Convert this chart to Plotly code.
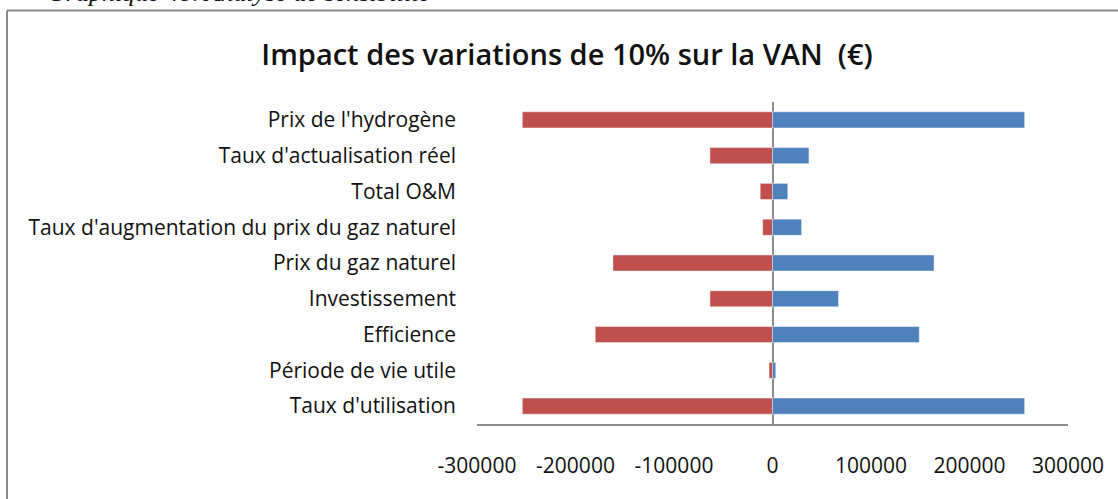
import plotly.graph_objects as go

# Sensitivity analysis: effect of a ±10% change of each parameter on the NPV (VAN)
parametres = [
    "Prix de l'hydrogène",
    "Taux d'actualisation réel",
    "Total O&M",
    "Taux d'augmentation du prix du gaz naturel",
    "Prix du gaz naturel",
    "Investissement",
    "Efficience",
    "Période de vie utile",
    "Taux d'utilisation",
]
impact_negatif = [-254000, -63500, -12500, -10000, -162000, -63500, -180000, -3500, -254000]
impact_positif = [256000, 37000, 15500, 29500, 164000, 67000, 149000, 3300, 256000]
tick_valeurs = [-300000, -200000, -100000, 0, 100000, 200000, 300000]

W, H = 1118, 499
ML, MR, MT, MB = 477, 50, 102, 75
PW, PH = W - ML - MR, H - MT - MB


def px_x(x):
    return (x - ML) / PW


def px_y(y):
    return 1 - (y - MT) / PH


fig = go.Figure()
fig.add_trace(go.Bar(
    y=parametres, x=impact_negatif, orientation="h",
    marker=dict(color="#C0504D", line=dict(color="rgba(255,255,255,0.45)", width=1)),
    showlegend=False,
))
fig.add_trace(go.Bar(
    y=parametres, x=impact_positif, orientation="h",
    marker=dict(color="#4F81BD", line=dict(color="rgba(255,255,255,0.45)", width=1)),
    showlegend=False,
))

font_main = "'Open Sans', sans-serif"

fig.update_layout(
    width=W, height=H,
    margin=dict(l=ML, r=MR, t=MT, b=MB, pad=0),
    paper_bgcolor="white", plot_bgcolor="white",
    barmode="overlay", bargap=0.55,
    font=dict(family=font_main, color="#111111"),
    title=dict(
        text="Impact des variations de 10% sur la VAN  (€)",
        font=dict(family=font_main, size=29, color="#111111", weight=600),
        x=567 / W, xanchor="center",
        y=1 - 55 / H, yanchor="middle",
    ),
    xaxis=dict(
        range=[-300000, 300000],
        tickvals=tick_valeurs,
        ticktext=[str(v) for v in tick_valeurs],
        tickfont=dict(size=21, family=font_main),
        showgrid=False,
        showline=True, linecolor="#8C8C8C", linewidth=1.5,
        zeroline=True, zerolinecolor="#8C8C8C", zerolinewidth=1.5,
        ticks="", ticklabelstandoff=22,
        fixedrange=True,
    ),
    yaxis=dict(
        autorange="reversed",
        tickfont=dict(size=21, family=font_main),
        showgrid=False, showline=False, zeroline=False,
        ticks="", ticklabelstandoff=20,
        fixedrange=True,
    ),
    shapes=[
        dict(type="line", xref="paper", yref="paper",
             x0=px_x(7), x1=px_x(W + 5), y0=px_y(10.5), y1=px_y(10.5),
             line=dict(color="#8C8C8C", width=2)),
        dict(type="line", xref="paper", yref="paper",
             x0=px_x(7), x1=px_x(7), y0=px_y(10.5), y1=px_y(H + 5),
             line=dict(color="#8C8C8C", width=2)),
    ],
    annotations=[
        dict(text="<i>Graphique 48. Analyse de sensibilité</i>",
             xref="paper", yref="paper", x=px_x(45), y=px_y(9),
             xanchor="left", yanchor="bottom", showarrow=False,
             font=dict(family="'Liberation Serif', serif", size=26, color="#111111")),
    ],
)

fig.write_html("out.html", config={"displayModeBar": False})
